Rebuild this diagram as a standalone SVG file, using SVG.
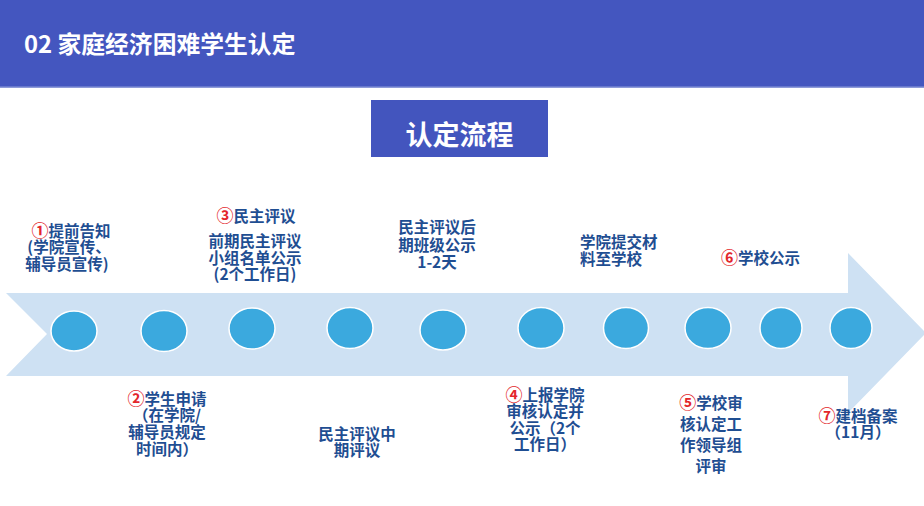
<svg xmlns="http://www.w3.org/2000/svg" width="924" height="506" viewBox="0 0 924 506">
<style>
.t{font-family:"Noto Sans CJK SC","Noto Sans",sans-serif;font-weight:bold;font-size:15.5px;fill:#1F4E92;text-anchor:middle}
.s{text-anchor:start}
.r{fill:#E3262B;font-size:17px}
.dot{fill:#3BA9DE;stroke:#FFFFFF;stroke-width:1.5}
</style>
<rect x="0" y="0" width="924" height="506" fill="#FFFFFF"/>
<g id="header">
<rect x="0" y="0" width="924" height="87" fill="#4456BF"/>
<rect x="0" y="86.5" width="924" height="1.5" fill="#8E9BD9"/>
<text x="24" y="53" font-family="'Noto Sans CJK SC','Noto Sans',sans-serif" font-weight="bold" font-size="23.8" fill="#FFFFFF">02 家庭经济困难学生认定</text>
</g>
<g id="title-box">
<rect x="371" y="100" width="177" height="57" fill="#4355BE"/>
<text x="459.5" y="145" text-anchor="middle" font-family="'Noto Sans CJK SC','Noto Sans',sans-serif" font-weight="bold" font-size="27" fill="#FFFFFF">认定流程</text>
</g>
<g id="arrow">
<polygon points="6,293 848,293 848,253 926,333 848,413 848,376 6,376 47,334" fill="#CEE1F3"/>
</g>
<g id="dots">
<ellipse class="dot" cx="74" cy="331" rx="23" ry="20"/>
<ellipse class="dot" cx="164" cy="331" rx="23" ry="20.5"/>
<ellipse class="dot" cx="252" cy="328.5" rx="23" ry="20.5"/>
<ellipse class="dot" cx="350" cy="328" rx="23" ry="20.5"/>
<ellipse class="dot" cx="443" cy="330" rx="23" ry="20"/>
<ellipse class="dot" cx="541" cy="328" rx="23" ry="20.5"/>
<ellipse class="dot" cx="626" cy="328" rx="22.5" ry="20.5"/>
<ellipse class="dot" cx="708" cy="328" rx="23" ry="20.5"/>
<ellipse class="dot" cx="781" cy="328" rx="21" ry="20.5"/>
<ellipse class="dot" cx="851" cy="328" rx="21" ry="20.5"/>
</g>
<g id="step1">
<text class="t" x="71" y="237"><tspan class="r">①</tspan>提前告知</text>
<text class="t" x="69" y="253">(学院宣传、</text>
<text class="t" x="67" y="270">辅导员宣传)</text>
</g>
<g id="step2">
<text class="t" x="167" y="405"><tspan class="r">②</tspan>学生申请</text>
<text class="t" x="167" y="421">（在学院/</text>
<text class="t" x="167" y="438">辅导员规定</text>
<text class="t" x="167" y="455">时间内）</text>
</g>
<g id="step3">
<text class="t" x="256" y="222"><tspan class="r">③</tspan>民主评议</text>
<text class="t" x="255" y="247">前期民主评议</text>
<text class="t" x="255" y="264">小组名单公示</text>
<text class="t" x="255" y="280">(2个工作日)</text>
</g>
<g id="step-mid">
<text class="t" x="357" y="440">民主评议中</text>
<text class="t" x="357" y="456">期评议</text>
</g>
<g id="step-after">
<text class="t" x="437" y="233">民主评议后</text>
<text class="t" x="437" y="251">期班级公示</text>
<text class="t" x="437" y="268">1-2天</text>
</g>
<g id="step4">
<text class="t" x="545" y="401"><tspan class="r">④</tspan>上报学院</text>
<text class="t" x="545" y="417">审核认定并</text>
<text class="t" x="545" y="434">公示（2个</text>
<text class="t" x="545" y="450">工作日）</text>
</g>
<g id="step-submit">
<text class="t s" x="580" y="248">学院提交材</text>
<text class="t s" x="580" y="265">料至学校</text>
</g>
<g id="step5">
<text class="t" x="711" y="409"><tspan class="r">⑤</tspan>学校审</text>
<text class="t" x="711" y="430">核认定工</text>
<text class="t" x="711" y="451">作领导组</text>
<text class="t" x="711" y="472">评审</text>
</g>
<g id="step6">
<text class="t s" x="721" y="264"><tspan class="r">⑥</tspan>学校公示</text>
</g>
<g id="step7">
<text class="t" x="858" y="422"><tspan class="r">⑦</tspan>建档备案</text>
<text class="t" x="858" y="438">（11月）</text>
</g>
<g id="connectors"></g>
</svg>
